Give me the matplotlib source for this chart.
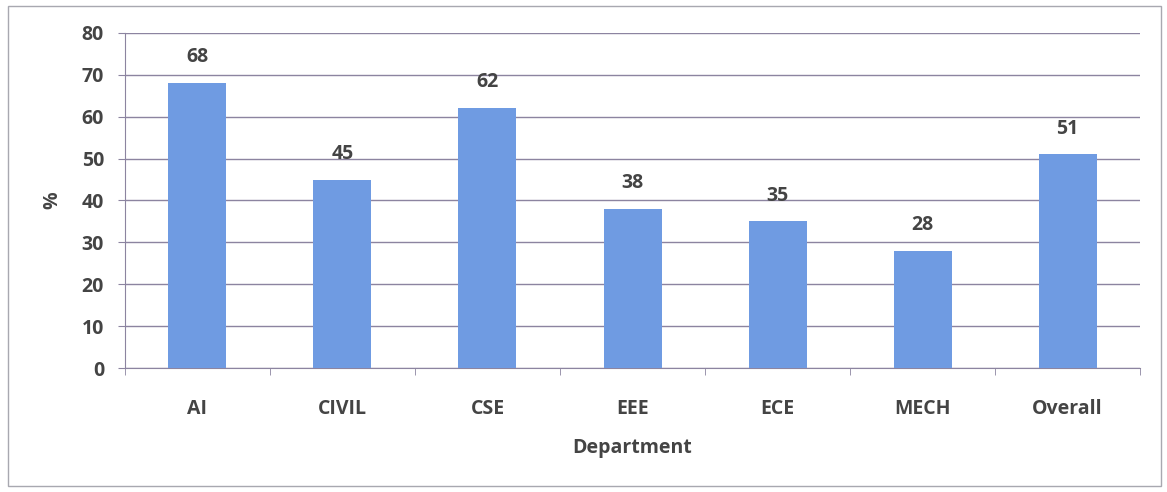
import matplotlib.pyplot as plt
import numpy as np
from matplotlib.patches import Rectangle

departments = ["AI", "CIVIL", "CSE", "EEE", "ECE", "MECH", "Overall"]
percent = [68, 45, 62, 38, 35, 28, 51]
y_ticks = [0, 10, 20, 30, 40, 50, 60, 70, 80]

BAR_COLOR = "#6f9be2"
GRID_COLOR = "#8c84a0"
TEXT_COLOR = "#444444"

plt.rcParams["font.family"] = ["Open Sans", "DejaVu Sans"]

fig = plt.figure(figsize=(11.67, 4.92), dpi=100)
ax = fig.add_axes([0.107, 0.252, 0.870, 0.681])

x = np.arange(len(departments))
bars = ax.bar(x, percent, width=0.4, color=BAR_COLOR, zorder=3)
for bar, val in zip(bars, percent):
    ax.text(bar.get_x() + bar.get_width() / 2, val + 3.8, str(val),
            ha="center", va="bottom", fontsize=14, fontweight="bold", color=TEXT_COLOR)

ax.set_xlim(-0.5, len(departments) - 0.5)
ax.set_ylim(0, 80)
ax.set_yticks(y_ticks)
ax.set_xticks(x)
ax.set_xticklabels(departments)
ax.set_xticks(np.arange(-0.5, len(departments)), minor=True)
ax.tick_params(axis="x", which="major", length=0, pad=22)
ax.tick_params(axis="x", which="minor", length=5, color=GRID_COLOR, direction="out")
ax.tick_params(axis="y", length=5, color=GRID_COLOR, pad=10)
for lbl in ax.get_xticklabels() + ax.get_yticklabels():
    lbl.set_fontsize(14)
    lbl.set_fontweight("bold")
    lbl.set_color(TEXT_COLOR)

ax.grid(axis="y", color=GRID_COLOR, linewidth=1, zorder=0)
for side in ("top", "right"):
    ax.spines[side].set_visible(False)
ax.spines["left"].set_color(GRID_COLOR)
ax.spines["bottom"].set_color(GRID_COLOR)

ax.set_xlabel("Department", fontsize=14, fontweight="bold", color=TEXT_COLOR, labelpad=14)
ax.set_ylabel("%", fontsize=14, fontweight="bold", color=TEXT_COLOR, labelpad=14)

fig.patches.append(Rectangle((0.007, 0.012), 0.988, 0.975, transform=fig.transFigure,
                             fill=False, edgecolor="#a8a8b0", linewidth=1))

fig.savefig("out.png", dpi=100)
